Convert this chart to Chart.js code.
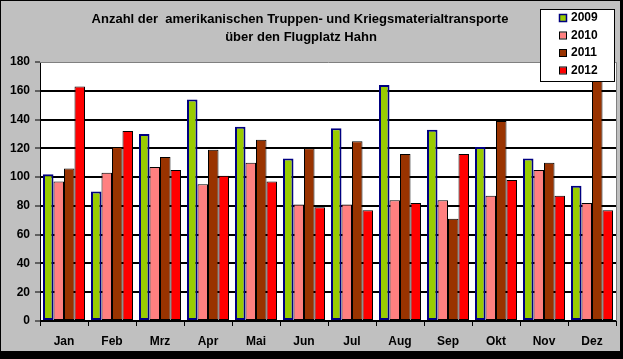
<!DOCTYPE html>
<html>
<head>
<meta charset="utf-8">
<script src="https://cdn.jsdelivr.net/npm/chart.js@4"></script>
<style>
  html, body { margin: 0; padding: 0; background: #000; }
  canvas { display: block; }
</style>
</head>
<body>
<canvas id="chart" width="623" height="359"></canvas>
<script>
// Monate
const months = ['Jan', 'Feb', 'Mrz', 'Apr', 'Mai', 'Jun', 'Jul', 'Aug', 'Sep', 'Okt', 'Nov', 'Dez'];
const years = ['2009', '2010', '2011', '2012'];

// Werte je Jahr
const y2009 = [102, 90, 130, 154, 135, 113, 134, 164, 133, 121, 113, 94];
const y2010 = [97, 103, 107, 95, 110, 81, 81, 84, 84, 87, 105, 82];
const y2011 = [106, 121, 114, 119, 126, 120, 125, 116, 71, 139, 110, 172];
const y2012 = [163, 132, 105, 101, 97, 79, 77, 82, 116, 98, 87, 77];

const titleLines = ['Anzahl der  amerikanischen Truppen- und Kriegsmaterialtransporte', 'über den Flugplatz Hahn'];

const fillColors = ['#99CC00', '#FF8080', '#993300', '#FF0000'];
const edgeColors = ['#000080', '#000000', '#000000', '#000000'];
const edgeWidths = [2, 1, 1, 1];
const FONT = "'Liberation Sans', Arial, sans-serif";

// Hintergrund, Rahmen, Titel und Legende
const framePlugin = {
    id: 'frame',
    beforeDraw(chart) {
        const ctx = chart.ctx;
        ctx.save();
        ctx.fillStyle = '#000';
        ctx.fillRect(0, 0, chart.width, chart.height);
        ctx.fillStyle = '#C0C0C0';
        ctx.fillRect(1, 1, 619, 350);
        const a = chart.chartArea;
        ctx.fillStyle = '#fff';
        ctx.fillRect(a.left, a.top, a.right - a.left, a.bottom - a.top);
        ctx.restore();
    },
    afterDraw(chart) {
        const ctx = chart.ctx;
        const a = chart.chartArea;
        ctx.save();
        // Rand des Zeichenbereichs
        ctx.strokeStyle = '#808080';
        ctx.lineWidth = 1;
        ctx.beginPath();
        ctx.moveTo(a.left, a.top + 0.5);
        ctx.lineTo(a.right + 0.5, a.top + 0.5);
        ctx.lineTo(a.right + 0.5, a.bottom);
        ctx.stroke();

        // Titel
        ctx.fillStyle = '#000';
        ctx.font = 'bold 13px ' + FONT;
        ctx.textAlign = 'center';
        ctx.textBaseline = 'middle';
        ctx.fillText(titleLines[0], 300, 19);
        ctx.fillText(titleLines[1], 301, 37);

        // Legende
        ctx.font = 'bold 12px ' + FONT;
        ctx.fillStyle = '#fff';
        ctx.fillRect(540, 10, 74, 71);
        ctx.strokeStyle = '#000';
        ctx.lineWidth = 1;
        ctx.strokeRect(540.5, 9.5, 74, 72);
        ctx.textAlign = 'left';
        chart.data.datasets.forEach((ds, i) => {
            const cy = 18 + i * 17.5;
            ctx.fillStyle = ds.backgroundColor;
            ctx.fillRect(560, cy - 3, 6, 6);
            ctx.strokeStyle = ds.borderColor;
            ctx.lineWidth = i === 0 ? 1.5 : 1;
            ctx.strokeRect(559.5, cy - 3.5, 7, 7);
            ctx.fillStyle = '#000';
            ctx.fillText(ds.label, 571, cy);
        });
        ctx.restore();
    }
};

const datasets = [y2009, y2010, y2011, y2012].map((vals, i) => ({
    label: years[i],
    data: vals,
    backgroundColor: fillColors[i],
    borderColor: edgeColors[i],
    borderWidth: edgeWidths[i],
    borderSkipped: false,
    categoryPercentage: 0.875,
    barPercentage: 1.0
}));

new Chart(document.getElementById('chart'), {
    type: 'bar',
    data: { labels: months, datasets: datasets },
    plugins: [framePlugin],
    options: {
        responsive: false,
        animation: false,
        devicePixelRatio: 1,
        layout: { padding: { top: 62, right: 7, bottom: 0, left: 0 } },
        plugins: {
            legend: { display: false },
            title: { display: false },
            tooltip: { enabled: false }
        },
        scales: {
            x: {
                offset: true,
                grid: {
                    offset: true,
                    drawOnChartArea: false,
                    color: '#000',
                    tickLength: 5
                },
                border: { color: '#000', width: 1 },
                ticks: {
                    color: '#000',
                    font: { family: FONT, size: 12, weight: 'bold' },
                    padding: 8,
                    maxRotation: 0
                },
                afterFit(scale) { scale.height = 38; }
            },
            y: {
                min: 0,
                max: 180,
                ticks: {
                    stepSize: 20,
                    color: '#000',
                    font: { family: FONT, size: 12, weight: 'bold' },
                    padding: 5
                },
                grid: {
                    color: ctx => (ctx.tick && ctx.tick.value === 180) ? 'rgba(0,0,0,0)' : '#000',
                    lineWidth: 2,
                    tickColor: '#000',
                    tickWidth: 1,
                    tickLength: 5
                },
                border: { color: '#000', width: 1 },
                afterFit(scale) { scale.width = 40; }
            }
        }
    }
});
</script>
</body>
</html>
